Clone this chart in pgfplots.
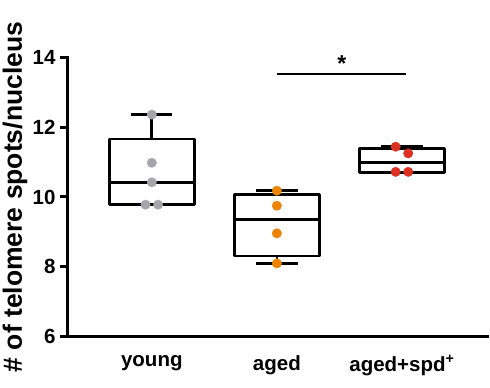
\documentclass[border=0pt]{standalone}
\usepackage{fontspec}
\setmainfont{Liberation Sans}
\usepackage{pgfplots}
\pgfplotsset{compat=1.18}
\definecolor{ptgrey}{RGB}{166,166,170}
\definecolor{ptorange}{RGB}{238,131,0}
\definecolor{ptred}{RGB}{220,48,32}
\pgfplotsset{bx/.style={draw=black, line width=2.7pt, mark=none, line join=round}}
\begin{document}
\begin{tikzpicture}
\begin{axis}[
  width=419pt, height=279.4pt, scale only axis,
  xmin=0.33, xmax=3.68, ymin=6, ymax=14,
  axis lines*=left,
  axis line style={line width=3pt, line cap=rect},
  xtick={1,2,3},
  xticklabels={young, aged, aged+spd\textsuperscript{+}},
  x tick style={draw=none},
  ytick={6,8,10,12,14},
  y tick style={line width=3pt, black},
  tick align=outside,
  major tick length=8pt,
  /pgf/number format/assume math mode=true,
  tick label style={font=\fontsize{20.5}{24}\selectfont\bfseries},
  xticklabel style={yshift=-7pt},
  yticklabel style={xshift=-1pt},
  ylabel={\# of telomere spots/nucleus},
  every axis y label/.style={at={(axis description cs:0,0.5)}, xshift=-53pt, rotate=90, anchor=center, font=\fontsize{26.5}{30}\selectfont\bfseries},
  clip=false,
]
% young
\addplot[bx] coordinates {(1,11.66) (1,12.36)};
\addplot[bx] coordinates {(0.835,12.36) (1.165,12.36)};
\addplot[bx] coordinates {(0.835,9.78) (1.165,9.78)};
\addplot[bx, fill=white] coordinates {(0.66,9.79) (1.34,9.79) (1.34,11.66) (0.66,11.66)} -- cycle;
\addplot[bx] coordinates {(0.66,10.42) (1.34,10.42)};
% aged
\addplot[bx] coordinates {(2,10.08) (2,10.18)};
\addplot[bx] coordinates {(2,8.31) (2,8.10)};
\addplot[bx] coordinates {(1.835,10.18) (2.165,10.18)};
\addplot[bx] coordinates {(1.835,8.10) (2.165,8.10)};
\addplot[bx, fill=white] coordinates {(1.66,8.31) (2.34,8.31) (2.34,10.08) (1.66,10.08)} -- cycle;
\addplot[bx] coordinates {(1.66,9.36) (2.34,9.36)};
% aged+spd
\addplot[bx] coordinates {(2.835,11.44) (3.165,11.44)};
\addplot[bx] coordinates {(2.835,10.70) (3.165,10.70)};
\addplot[bx, fill=white] coordinates {(2.66,10.70) (3.34,10.70) (3.34,11.39) (2.66,11.39)} -- cycle;
\addplot[bx] coordinates {(2.66,10.98) (3.34,10.98)};

\addplot[only marks, mark=*, mark size=4.7pt, color=ptgrey] coordinates {
 (1,12.36) (1,10.98) (1,10.42) (0.95,9.78) (1.05,9.78)};
\addplot[only marks, mark=*, mark size=4.7pt, color=ptorange] coordinates {
 (2,10.18) (2,9.75) (2,8.96) (2,8.10)};
\addplot[only marks, mark=*, mark size=4.7pt, color=ptred] coordinates {
 (2.95,11.44) (3.05,11.25) (2.95,10.72) (3.05,10.72)};

\addplot[black, line width=2.6pt, mark=none] coordinates {(2,13.52) (3.03,13.52)};
\node[font=\fontsize{23}{24}\selectfont\bfseries] at (axis cs:2.52,13.82) {*};
\end{axis}
\pgfresetboundingbox
\path (current axis.south west) ++(-68pt,-51.3pt) coordinate (bbsw);
\path (current axis.north east) ++(3pt,57.3pt) coordinate (bbne);
\useasboundingbox (bbsw) rectangle (bbne);
\end{tikzpicture}
\end{document}
